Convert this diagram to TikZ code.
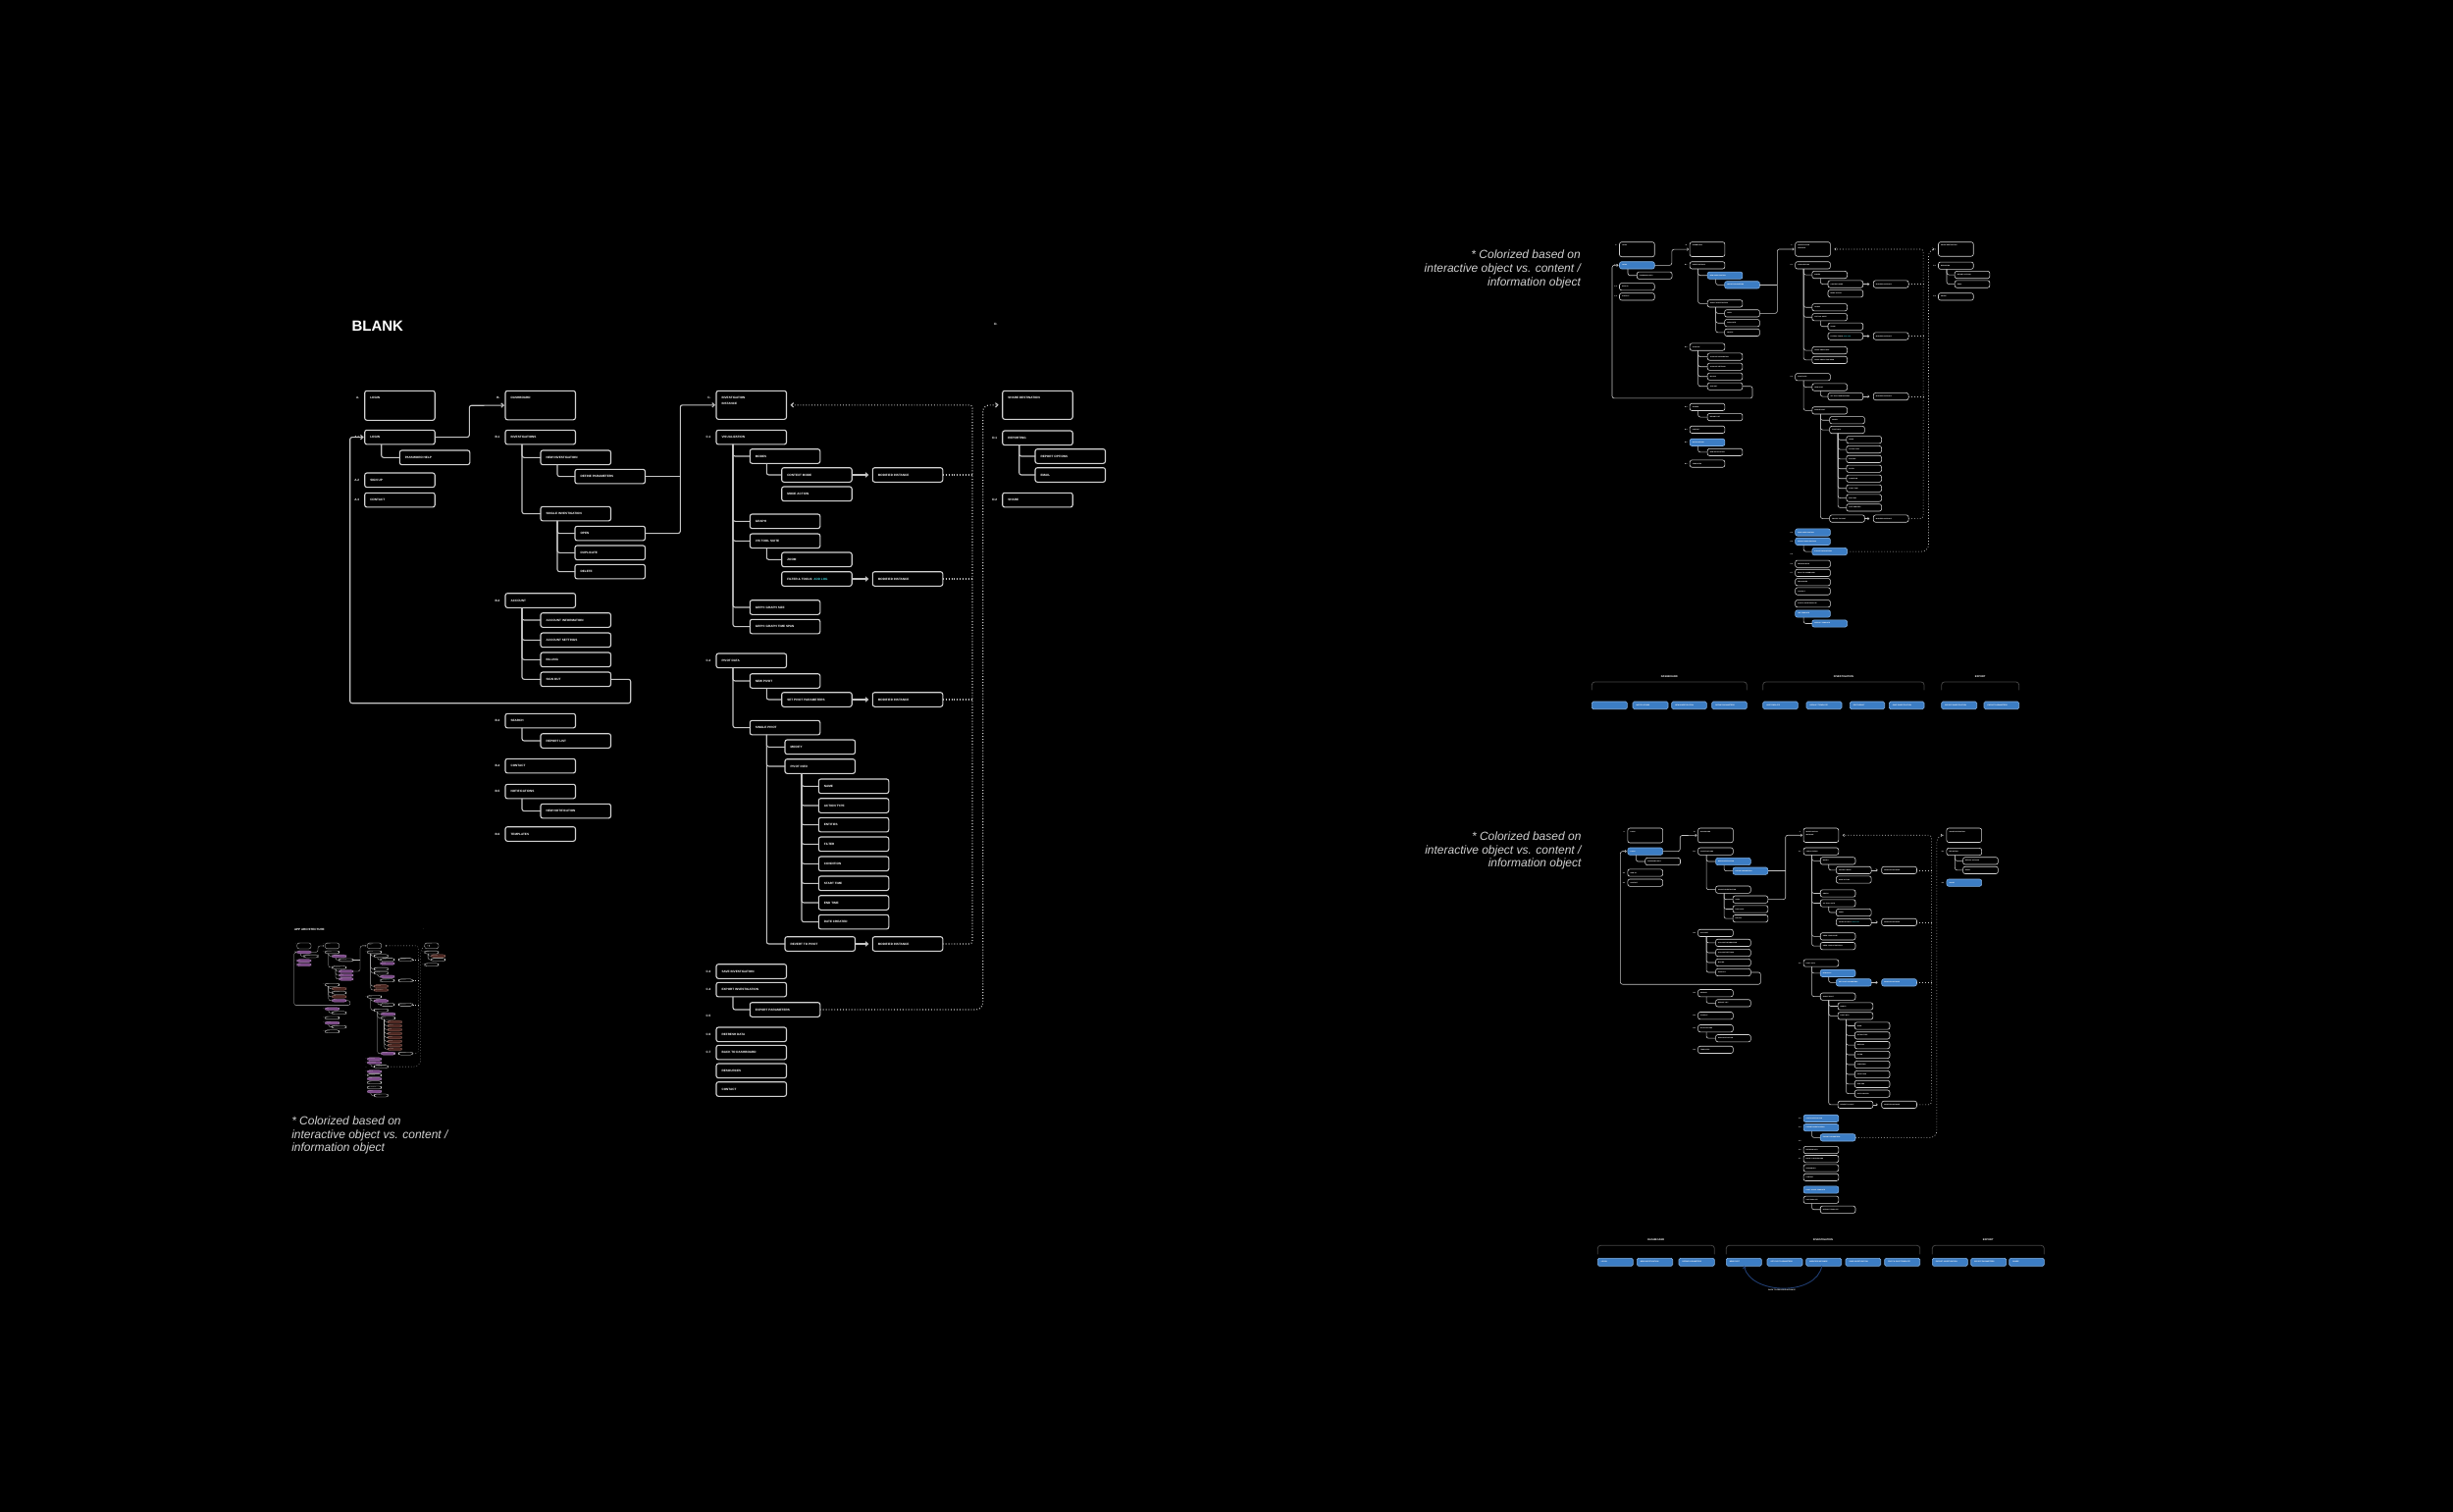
\documentclass[tikz,border=0pt]{standalone}
\usepackage{fontspec}
\setmainfont{Liberation Sans}
\usetikzlibrary{arrows.meta}
\definecolor{ln}{HTML}{C4C4C4}
\definecolor{bxc}{HTML}{D2D2D2}
\definecolor{cyanx}{HTML}{3FD0D8}
\definecolor{blu}{HTML}{3C7DC4}
\definecolor{blud}{HTML}{80AEE0}
\definecolor{arcb}{HTML}{1F3C70}
\definecolor{ppc}{HTML}{7A4886}
\definecolor{ppd}{HTML}{A47BB0}
\definecolor{brc}{HTML}{4C2620}
\definecolor{brd}{HTML}{8A6058}
\definecolor{notec}{HTML}{D0D0D0}
\definecolor{brk}{HTML}{444444}
\tikzset{
  box/.style={draw=bxc, fill=black, rounded corners=2.2, minimum width=71.5, minimum height=14.6, inner sep=0, outer sep=0},
  txt/.style={anchor=west, inner sep=0, text=white, font=\fontsize{3.1}{3.7}\selectfont\bfseries},
  lbl/.style={anchor=east, inner sep=0, text=white, font=\fontsize{3.1}{3.7}\selectfont\bfseries},
  conn/.style={draw=ln, rounded corners=2.2},
  arw/.style={-{Straight Barb[length=2.4pt,width=4.4pt]}},
  dotl/.style={draw=ln, dash pattern=on 0.9pt off 2pt, rounded corners=3},
  bluebox/.style={fill=blu, draw=blud},
  ppbox/.style={fill=ppc, draw=ppd},
  brbox/.style={fill=brc, draw=brd},
  notetxt/.style={text=notec, font=\fontsize{12}{14}\selectfont\itshape, inner sep=0},
  lgbox/.style={draw=blud, fill=blu, rounded corners=1.5, inner sep=0, outer sep=0, line width=0.6pt},
  lgtxt/.style={anchor=west, inner sep=0, text=white, font=\fontsize{1.8}{2}\selectfont\bfseries},
  lgtitle/.style={inner sep=0, text=white, font=\fontsize{2.6}{3}\selectfont\bfseries},
  brack/.style={draw=brk, line width=0.8pt, rounded corners=3},
}
% box: [height]{id}{x}{y}{text}
\newcommand\iabx[5][14.6]{%
  \node[box, minimum height=#1, s-#2/.try] (#2) at ({#3+35.75},{#4+#1/2}) {};
  \node[txt] (#2-t) at ({#3+5},{#4+7.3}) {#5};
  \coordinate (#2-k) at ({#3+17},{#4+#1});
}
\newcommand\iabxl[6][14.6]{%
  \iabx[#1]{#2}{#3}{#4}{#5}%
  \node[lbl] (#2-n) at ({#3-5},{#4+7.3}) {#6};
}
\newcommand\iatr[2]{\draw[conn] (#1-k) |- (#2.west);}
\newcommand\iamap{%
  % A
  \iabxl[30]{a}{371.7}{398.3}{LOGIN}{A.}
  \iabxl{a1}{371.7}{438.3}{LOGIN}{A.1}
  \iabx{pw}{407.3}{459}{PASSWORD HELP}
  \iabxl{a2}{371.7}{482}{SIGN UP}{A.2}
  \iabxl{a3}{371.7}{502.3}{CONTACT}{A.3}
  % B
  \iabxl[29.5]{b}{515}{398.3}{DASHBOARD}{B.}
  \iabxl{b1}{515}{438.3}{INVESTIGATIONS}{B.1}
  \iabx{newinv}{551}{459}{NEW INVESTIGATION}
  \iabx{defpar}{586}{478.3}{DEFINE PARAMETERS}
  \iabx{sinv}{551}{516.3}{SINGLE INVESTIGATION}
  \iabx{open}{586}{536.3}{OPEN}
  \iabx{dup}{586}{556}{DUPLICATE}
  \iabx{del}{586}{575.3}{DELETE}
  \iabxl{b2}{515}{604.7}{ACCOUNT}{B.2}
  \iabx{ainfo}{551}{624.7}{ACCOUNT INFORMATION}
  \iabx{aset}{551}{645}{ACCOUNT SETTINGS}
  \iabx{bill}{551}{665}{BILLING}
  \iabx{sout}{551}{685}{SIGN OUT}
  \iabxl{b3}{515}{727.3}{SEARCH}{B.3}
  \iabx{rlist}{551}{747.7}{REPORT LIST}
  \iabxl{b4}{515}{773.3}{CONTACT}{B.4}
  \iabxl{b5}{515}{799.3}{NOTIFICATIONS}{B.5}
  \iabx{nnot}{551}{819.3}{NEW NOTIFICATION}
  \iabxl{b6}{515}{842.7}{TEMPLATES}{B.6}
  % C
  \iabxl[29]{c}{730}{398.3}{INVESTIGATION}{C.}
  \node[txt] (c-t2) at (735,411.3) {INSTANCE};
  \iabxl{c1}{730}{438.3}{VISUALIZATION}{C.1}
  \iabx{modes}{764.3}{457.7}{MODES}
  \iabx{cmode}{796.7}{476.7}{CONTEXT MODE}
  \iabx{mi1}{889.3}{476.7}{MODIFIED INSTANCE}
  \iabx{mact}{796.7}{496}{MODE ACTION}
  \iabx{graph}{764.3}{524}{GRAPH}
  \iabx{vis}{764.3}{544}{VIS TOOL SUITE}
  \iabx{zoom}{796.7}{563}{ZOOM}
  \iabx{filt}{796.7}{582.7}{FILTER \& TOOLS: \textcolor{cyanx}{ADD LOG}}
  \iabx{mi2}{889.3}{582.7}{MODIFIED INSTANCE}
  \iabx{gsize}{764.3}{611.7}{GRPH: GRAPH SIZE}
  \iabx{gspan}{764.3}{631.3}{GRPH: GRAPH TIME SPAN}
  \iabxl{c2}{730}{666}{PIVOT DATA}{C.2}
  \iabx{npiv}{764.3}{686.7}{NEW PIVOT}
  \iabx{spp}{796.7}{705.7}{SET PIVOT PARAMETERS}
  \iabx{mi3}{889.3}{705.7}{MODIFIED INSTANCE}
  \iabx{spiv}{764.3}{734.3}{SINGLE PIVOT}
  \iabx{mod}{800}{754}{MODIFY}
  \iabx{pinfo}{800}{773.7}{PIVOT INFO}
  \iabx{pname}{834.3}{794}{NAME}
  \iabx{atype}{834.3}{813.7}{ACTION TYPE}
  \iabx{ent}{834.3}{833.3}{ENTITIES}
  \iabx{pfilt}{834.3}{853}{FILTER}
  \iabx{cond}{834.3}{873}{CONDITION}
  \iabx{stime}{834.3}{893}{START TIME}
  \iabx{etime}{834.3}{912.7}{END TIME}
  \iabx{dcre}{834.3}{932.3}{DATE CREATED}
  \iabx{rev}{800}{954.7}{REVERT TO PIVOT}
  \iabx{mi4}{889.3}{954.7}{MODIFIED INSTANCE}
  \iabxl{c3}{730}{982.7}{SAVE INVESTIGATION}{C.3}
  \iabxl{c4}{730}{1001.3}{EXPORT INVESTIGATION}{C.4}
  \iabx{epar}{764.3}{1021.7}{EXPORT PARAMETERS}
  \node[lbl] (c5-n) at (725,1035.3) {C.5};
  \iabxl{c6}{730}{1047}{REFRESH DATA}{C.6}
  \iabxl{c7}{730}{1065.3}{BACK TO DASHBOARD}{C.7}
  \iabx{res}{730}{1084}{RESOURCES}
  \iabx{cont}{730}{1102.7}{CONTACT}
  % D
  \iabx[29]{d}{1021.7}{398.3}{SHARE DESTINATION}
  \iabxl{d1}{1021.7}{439}{REPORTING}{D.1}
  \iabx{ropt}{1055}{457.7}{REPORT OPTIONS}
  \iabx{email}{1055}{476.7}{EMAIL}
  \iabxl{d2}{1021.7}{502.3}{SHARE}{D.2}
  % connectors
  \iatr{a1}{pw}
  \coordinate (abj) at (478.3,413.3);
  \draw[conn,arw,shorten >=1] (a1.east) -| (abj) -- (b.west);
  \iatr{b1}{newinv}\iatr{b1}{sinv}\iatr{newinv}{defpar}
  \iatr{sinv}{open}\iatr{sinv}{dup}\iatr{sinv}{del}
  \coordinate (bcj) at (693.3,412.8);
  \draw[conn] (defpar.east) -- (defpar.east -| bcj);
  \draw[conn,arw,shorten >=1] (open.east) -| (bcj) -- (c.west);
  \iatr{b2}{ainfo}\iatr{b2}{aset}\iatr{b2}{bill}\iatr{b2}{sout}
  \coordinate (lp1) at (642.7,716.7);
  \coordinate (lp2) at (356.7,716.7);
  \draw[conn,arw,shorten >=1] (sout.east) -| (lp1) -- (lp2) |- (a1.west);
  \iatr{b3}{rlist}\iatr{b5}{nnot}
  \iatr{c1}{modes}\iatr{c1}{graph}\iatr{c1}{vis}\iatr{c1}{gsize}\iatr{c1}{gspan}
  \iatr{modes}{cmode}\iatr{vis}{zoom}
  \draw[conn,arw,shorten >=4] (cmode) -- (mi1);
  \draw[conn,arw,shorten >=4] (filt) -- (mi2);
  \draw[conn,arw,shorten >=4] (spp) -- (mi3);
  \draw[conn,arw,shorten >=4] (rev) -- (mi4);
  \iatr{c2}{npiv}\iatr{c2}{spiv}\iatr{npiv}{spp}
  \iatr{spiv}{mod}\iatr{spiv}{pinfo}\iatr{spiv}{rev}
  \foreach \n in {pname,atype,ent,pfilt,cond,stime,etime,dcre} {\iatr{pinfo}{\n}}
  \iatr{c4}{epar}
  \iatr{d1}{ropt}\iatr{d1}{email}
  \coordinate (dv1) at (991,412.8);
  \draw[dotl,arw,shorten >=4] (mi4.east) -| (dv1) -- (c.east);
  \foreach \m in {mi1,mi2,mi3} {\draw[dotl] (\m.east) -- (\m.east -| dv1);}
  \coordinate (dv2) at (1001.7,412.8);
  \draw[dotl,arw,rounded corners=7,shorten >=4] (epar.east) -| (dv2) -- (d.west);
}
\newcommand\iaextras{%
  \iabx{x1}{730}{1128}{PIVOT \& SAVE TEMPLATE}
  \iabx{x2}{730}{1148.5}{USE TEMPLATE}
  \iabx{x3}{764.3}{1168.5}{DEFAULT TEMPLATE}
  \iatr{x2}{x3}
}
% legend box without text: {id}{x1}{x2}{ytop}{h}
\newcommand\lgbe[5]{%
  \node[lgbox, minimum width={#3-#2}, minimum height=#5] (#1) at ({(#2+#3)/2},{#4+#5/2}) {};
}
% legend box: {id}{x1}{x2}{ytop}{h}{text}
\newcommand\lgb[6]{%
  \lgbe{#1}{#2}{#3}{#4}{#5}%
  \node[lgtxt] (#1-t) at ({#2+3},{#4+#5/2}) {#6};
}
\begin{document}
\begin{tikzpicture}[x=1pt, y=-1pt, line width=1.1pt]
\fill[black] (0,0) rectangle (2500,1541);
\useasboundingbox (0,0) rectangle (2500,1541);

% ===== main diagram =====
\node[anchor=base west, inner sep=0, text=white, font=\fontsize{15}{18}\selectfont\bfseries] (title) at (358,337) {BLANK};
\node[lbl] (dstray) at (1017,330) {D.};
\iamap

% ===== thumbnail =====
\begin{scope}[shift={(228.4,881.3)}, scale=0.2, transform shape, name prefix=th-, line width=0.3pt,
  arw/.style={-{Straight Barb[length=0.8pt,width=1.4pt]}},
  s-a1/.style=ppbox, s-a2/.style=ppbox, s-a3/.style=ppbox, s-newinv/.style=ppbox,
  s-open/.style=ppbox, s-dup/.style=ppbox, s-del/.style=ppbox, s-sout/.style=ppbox,
  s-b3/.style=ppbox, s-b5/.style=ppbox, s-mact/.style=ppbox, s-zoom/.style=ppbox,
  s-npiv/.style=ppbox, s-mod/.style=ppbox, s-rev/.style=ppbox, s-c3/.style=ppbox,
  s-c4/.style=ppbox, s-c6/.style=ppbox, s-res/.style=ppbox, s-x2/.style=ppbox,
  s-ainfo/.style=brbox, s-bill/.style=brbox, s-gsize/.style=brbox, s-gspan/.style=brbox,
  s-pname/.style=brbox, s-atype/.style=brbox, s-ent/.style=brbox, s-pfilt/.style=brbox,
  s-cond/.style=brbox, s-stime/.style=brbox, s-etime/.style=brbox, s-dcre/.style=brbox,
  s-ropt/.style=brbox]
  \node[anchor=base west, inner sep=0, text=white, font=\fontsize{15}{18}\selectfont\bfseries] (title) at (358,337) {APP ARCHITECTURE};
  \node[lbl] (dstray) at (1017,330) {D.};
  \iamap
  \iaextras
\end{scope}
\node[notetxt, anchor=base west] (n3a) at (296.7,1146.5) {* Colorized based on};
\node[notetxt, anchor=base west] (n3b) at (296.7,1160.2) {interactive object vs. content /};
\node[notetxt, anchor=base west] (n3c) at (296.7,1173.5) {information object};

% ===== copy 1 (upper right) =====
\begin{scope}[shift={(1464.65,47.55)}, scale=0.5, transform shape, name prefix=ra-, line width=0.6pt,
  arw/.style={-{Straight Barb[length=1.4pt,width=2.5pt]}},
  s-a1/.style=bluebox, s-newinv/.style=bluebox, s-defpar/.style=bluebox, s-b5/.style=bluebox,
  s-c3/.style=bluebox, s-c4/.style=bluebox, s-epar/.style=bluebox, s-x2/.style=bluebox, s-x3/.style=bluebox]
  \iamap
  \iaextras
\end{scope}
\node[notetxt, anchor=base east] (n1a) at (1611.4,263.5) {* Colorized based on};
\node[notetxt, anchor=base east] (n1b) at (1611.4,277.5) {interactive object vs. content /};
\node[notetxt, anchor=base east] (n1c) at (1611.4,291.5) {information object};
% legend 1
\node[lgtitle] (g1a) at (1701.3,690) {DASHBOARD};
\node[lgtitle] (g1b) at (1878.9,690) {INVESTIGATION};
\node[lgtitle] (g1c) at (2018.2,690) {EXPORT};
\draw[brack] (1622.3,703.3) |- (1780.3,695) -- (1780.3,703.3);
\draw[brack] (1796.7,703.3) |- (1961,695) -- (1961,703.3);
\draw[brack] (1978.7,703.3) |- (2057.7,695) -- (2057.7,703.3);
\lgbe{l1a}{1622.3}{1658.3}{715}{7.7}
\lgb{l1b}{1664}{1700}{715}{7.7}{NOTIFICATIONS}
\lgb{l1c}{1703.7}{1739.3}{715}{7.7}{NEW INVESTIGATION}
\lgb{l1d}{1744.7}{1780.3}{715}{7.7}{DEFINE PARAMETERS}
\lgb{l1e}{1796.7}{1832.3}{715}{7.7}{USE TEMPLATE}
\lgb{l1f}{1841}{1877}{715}{7.7}{DEFAULT TEMPLATE}
\lgb{l1g}{1885.3}{1920.7}{715}{7.7}{EDIT RESULT}
\lgb{l1h}{1925.3}{1961}{715}{7.7}{SAVE INVESTIGATION}
\lgb{l1i}{1978.7}{2014.7}{715}{7.7}{EXPORT INVESTIGATION}
\lgb{l1j}{2022}{2057.7}{715}{7.7}{EXPORT PARAMETERS}

% ===== copy 2 (lower right) =====
\begin{scope}[shift={(1473.05,644.85)}, scale=0.5, transform shape, name prefix=rb-, line width=0.6pt,
  arw/.style={-{Straight Barb[length=1.4pt,width=2.5pt]}},
  s-a1/.style=bluebox, s-newinv/.style=bluebox, s-defpar/.style=bluebox, s-npiv/.style=bluebox,
  s-spp/.style=bluebox, s-mi3/.style=bluebox, s-d2/.style=bluebox, s-c3/.style=bluebox,
  s-c4/.style=bluebox, s-epar/.style=bluebox, s-x1/.style=bluebox]
  \iamap
  \iaextras
\end{scope}
\node[notetxt, anchor=base east] (n2a) at (1612,856.2) {* Colorized based on};
\node[notetxt, anchor=base east] (n2b) at (1612,870.2) {interactive object vs. content /};
\node[notetxt, anchor=base east] (n2c) at (1612,883.5) {information object};
% legend 2
\node[lgtitle] (g2a) at (1687.8,1263.7) {DASHBOARD};
\node[lgtitle] (g2b) at (1858,1263.7) {INVESTIGATION};
\node[lgtitle] (g2c) at (2026.3,1263.7) {EXPORT};
\draw[brack] (1628.3,1278.3) |- (1747.3,1269.3) -- (1747.3,1278.3);
\draw[brack] (1759.3,1278.3) |- (1956.7,1269.3) -- (1956.7,1278.3);
\draw[brack] (1969.3,1278.3) |- (2083.3,1269.3) -- (2083.3,1278.3);
\lgb{l2a}{1628.3}{1664.3}{1282.3}{8}{LOGIN}
\lgb{l2b}{1668.3}{1704.7}{1282.3}{8}{NEW INVESTIGATION}
\lgb{l2c}{1711}{1747.3}{1282.3}{8}{DEFINE PARAMETERS}
\lgb{l2d}{1759.3}{1795.3}{1282.3}{8}{NEW PIVOT}
\lgb{l2e}{1801}{1837}{1282.3}{8}{SET PIVOT PARAMETERS}
\lgb{l2f}{1840.7}{1876.7}{1282.3}{8}{MODIFIED INSTANCE}
\lgb{l2g}{1881}{1916.7}{1282.3}{8}{SAVE INVESTIGATION}
\lgb{l2h}{1920.7}{1956.7}{1282.3}{8}{PIVOT \& SAVE TEMPLATE}
\lgb{l2i}{1969.3}{2005.3}{1282.3}{8}{EXPORT INVESTIGATION}
\lgb{l2j}{2008.7}{2044.7}{1282.3}{8}{EXPORT PARAMETERS}
\lgb{l2k}{2047.7}{2083.3}{1282.3}{8}{SHARE}
\draw[arcb, line width=0.9pt, -{Straight Barb[length=1.8pt,width=3pt]}] ([xshift=-2]l2f.south) to[out=-100,in=-75] (l2d.south);
\node[lgtxt, anchor=center] (arct) at (1816,1315.3) {BACK TO PREVIOUS INSTANCE};
\end{tikzpicture}
\end{document}
